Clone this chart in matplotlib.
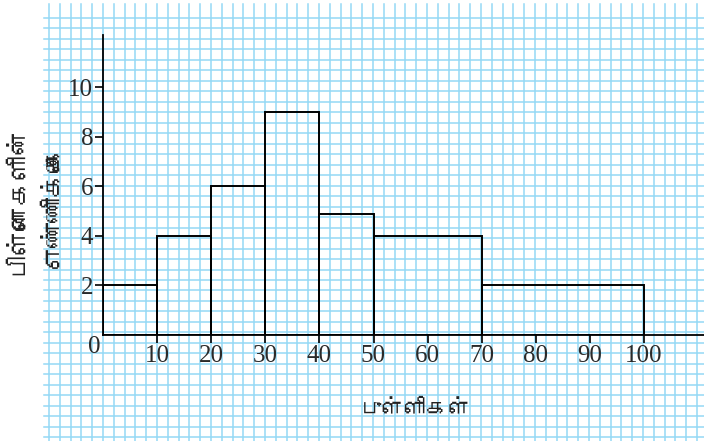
import matplotlib
matplotlib.use("Agg")
import matplotlib.pyplot as plt
from matplotlib import font_manager
from matplotlib.ft2font import FT2Font
import numpy as np

# данные гистограммы (границы интервалов и высоты)
bin_edges = [0, 10, 20, 30, 40, 50, 70, 100]
counts = [2, 4, 6, 9, 4.9, 4, 2]
x_ticks = [10, 20, 30, 40, 50, 60, 70, 80, 90, 100]
y_ticks = [2, 4, 6, 8, 10]
x_label = "புள்ளிகள்"
y_label_1 = "பிள்ளைகளின்"
y_label_2 = "எண்ணிக்கை"


def find_tamil_font():
    # ищем шрифт с тамильскими глифами
    for f in font_manager.fontManager.ttflist:
        try:
            ft = FT2Font(f.fname)
            if ft.get_char_index(0x0BAA) and ft.get_char_index(0x0BB3):
                return f.name
        except Exception:
            continue
    return None


tamil = find_tamil_font()
tamil_family = [tamil, "DejaVu Sans"] if tamil else ["DejaVu Sans"]

W, H = 704, 441
fig = plt.figure(figsize=(W / 100, H / 100), dpi=100)

# миллиметровка на заднем плане (в пикселях)
bg = fig.add_axes([0, 0, 1, 1])
bg.set_xlim(0, W)
bg.set_ylim(H, 0)
bg.axis("off")
grid_color = "#94d9f5"
for gx in np.arange(49, W, 10.8):
    bg.plot([gx, gx], [4, H], color=grid_color, lw=1.1, zorder=0)
for gy in np.arange(18, H, 10.48):
    bg.plot([44, W], [gy, gy], color=grid_color, lw=1.1, zorder=0)

# основная ось
x0_px, y0_px = 103, 335
ux, uy = 5.41, 24.77
x_max = (W - x0_px) / ux
y_max = (y0_px - 35) / uy
ax = fig.add_axes([x0_px / W, (H - y0_px) / H, 1 - x0_px / W, (y0_px - 35) / H])
ax.patch.set_alpha(0)
ax.set_xlim(0, x_max)
ax.set_ylim(0, y_max)

widths = np.diff(bin_edges)
ax.bar(bin_edges[:-1], counts, width=widths, align="edge",
       fill=False, edgecolor="black", linewidth=1.4, zorder=3)

for side in ["top", "right"]:
    ax.spines[side].set_visible(False)
ax.spines["left"].set_linewidth(1.3)
ax.spines["bottom"].set_linewidth(1.3)

serif = "Liberation Serif"
tick_color = "#2a2a2a"
ax.set_xticks(x_ticks)
ax.set_xticklabels([str(t) for t in x_ticks], fontfamily=serif, fontsize=18, color=tick_color)
ax.set_yticks(y_ticks)
ax.set_yticklabels([str(t) for t in y_ticks], fontfamily=serif, fontsize=18, color=tick_color)
ax.tick_params(axis="x", length=6, width=1.2, pad=1)
ax.tick_params(axis="y", length=6, width=1.2, pad=1)

# ноль в углу
ax.text(-0.5, -0.05, "0", ha="right", va="top", fontfamily=serif, fontsize=18, color=tick_color)

# подписи осей
fig.text(17 / W, 1 - 200 / H, y_label_1, rotation=90, ha="center", va="center",
         family=tamil_family, fontsize=18, style="italic", color="#222222")
fig.text(52 / W, 1 - 205 / H, y_label_2, rotation=90, ha="center", va="center",
         family=tamil_family, fontsize=18, style="italic", color="#222222")
fig.text(416 / W, 1 - 409 / H, x_label, ha="center", va="center",
         family=tamil_family, fontsize=16, style="italic", color="#222222")

fig.savefig("out.png", dpi=100)
